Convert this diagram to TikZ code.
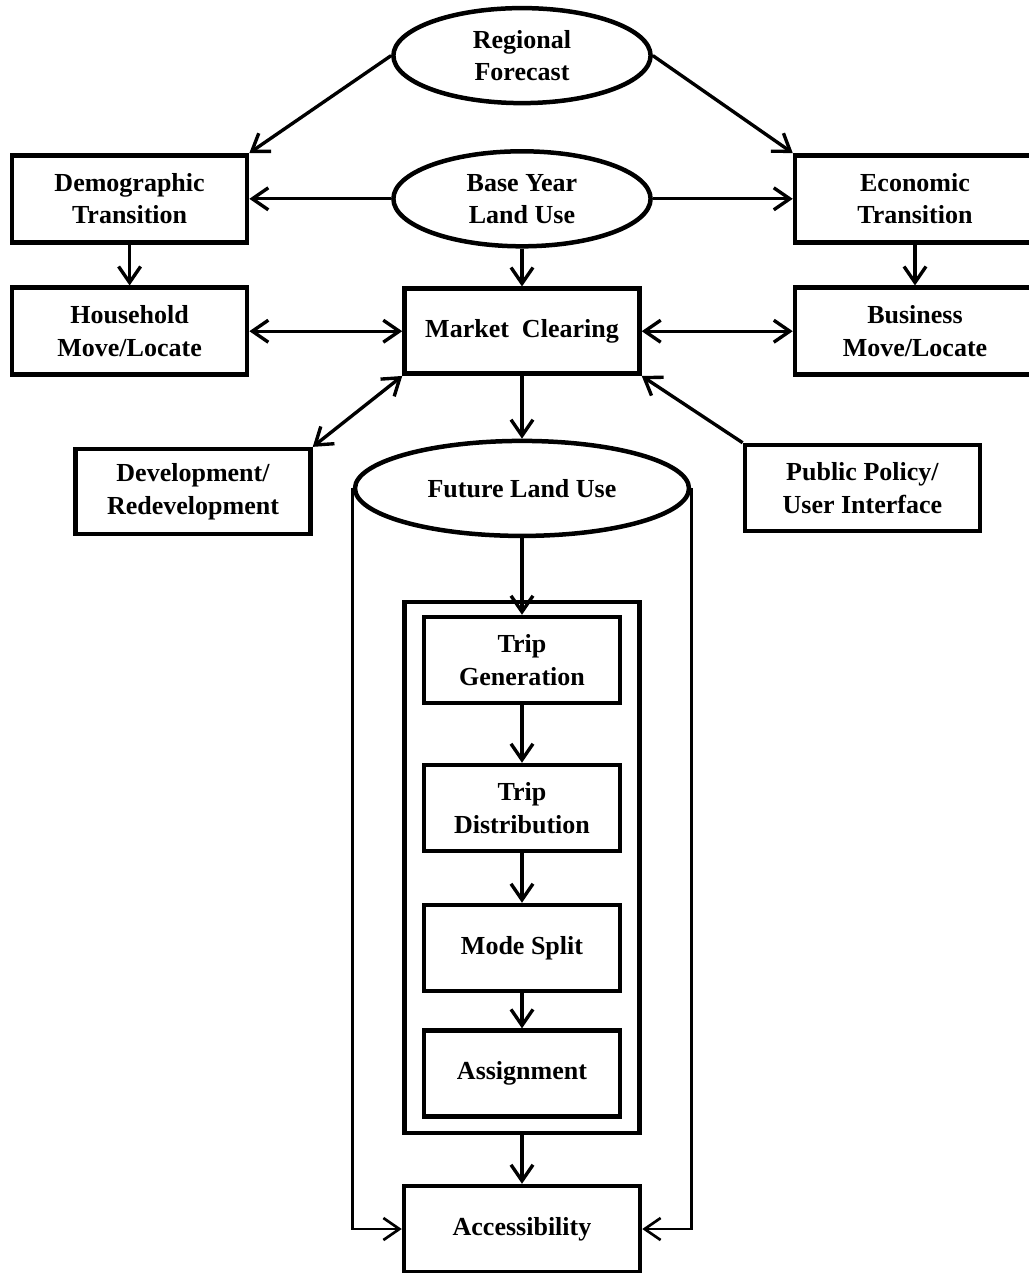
\documentclass[tikz,border=0pt]{standalone}
\usepackage{fontspec}
\setmainfont{Liberation Serif}
\usepackage{tikz}
\usetikzlibrary{arrows.meta}
\usetikzlibrary{shapes.geometric}

\tikzset{
  box/.style={draw, line width=3.2pt, rectangle, minimum width=5.875cm, minimum height=2.175cm, align=center, font=\bfseries\fontsize{18.5}{23}\selectfont},
  wbox/.style={box, minimum width=6cm},
  tbox/.style={box, minimum width=4.9cm, minimum height=2.15cm},
  oval/.style={draw, line width=3.2pt, ellipse, minimum width=6.43cm, minimum height=2.375cm, align=center, font=\bfseries\fontsize{18.5}{23}\selectfont},
  flow/.style={-{Straight Barb[length=4mm,width=5.5mm]}, line width=2.4pt},
  twoway/.style={{Straight Barb[length=4mm,width=5.5mm]}-{Straight Barb[length=4mm,width=5.5mm]}, line width=2.4pt},
  side/.style={-{Straight Barb[length=4mm,width=5.5mm]}, line width=1.9pt}
}

\begin{document}
\begin{tikzpicture}
     \useasboundingbox (0,0) rectangle (25.725,-31.825);
     %nodes
     \node[oval] (fore) at (13.05,-1.39) {Regional\\Forecast};
     \node[oval] (base) at (13.05,-4.97) {Base Year\\Land Use};
     \node[box] (demo) at (3.24,-4.97) {Demographic\\Transition};
     \node[wbox] (econ) at (22.875,-4.97) {Economic\\Transition};
     \node[box] (house) at (3.24,-8.28) {Household\\Move/Locate};
     \node[box, minimum height=2.125cm] (market) at (13.05,-8.28) {Market\ \ Clearing};
     \node[wbox] (biz) at (22.875,-8.28) {Business\\Move/Locate};
     \node[box, minimum height=2.125cm] (dev) at (4.825,-12.29) {Development/\\Redevelopment};
     \node[box, minimum height=2.15cm] (pol) at (21.56,-12.2) {Public Policy/\\User Interface};
     \node[oval, minimum width=8.35cm] (future) at (13.05,-12.21) {Future Land Use};

     %transport model
     \node[draw, line width=3.2pt, minimum width=5.875cm, minimum height=13.275cm] (outer) at (13.05,-21.69) {};
     \node[tbox] (tgen) at (13.05,-16.5) {Trip\\Generation};
     \node[tbox] (tdist) at (13.05,-20.2) {Trip\\Distribution};
     \node[tbox] (mode) at (13.05,-23.7) {Mode Split};
     \node[tbox] (assign) at (13.05,-26.84) {Assignment};
     \node[box, minimum width=5.9cm, minimum height=2.15cm] (access) at (13.05,-30.725) {Accessibility};

     %connectors
     \draw[flow] (fore.west) -- (demo.north east);
     \draw[flow] (fore.east) -- (econ.north west);
     \draw[flow] (base.west) -- (demo.east);
     \draw[flow] (base.east) -- (econ.west);
     \draw[flow] (base.south) -- (market.north);
     \draw[flow] (demo.south) -- (house.north);
     \draw[flow] (econ.south) -- (biz.north);
     \draw[twoway] (house.east) -- (market.west);
     \draw[twoway] (market.east) -- (biz.west);
     \draw[twoway] (market.south west) -- (dev.north east);
     \draw[flow] (pol.north west) -- (market.south east);
     \draw[flow] (market.south) -- (future.north);
     \draw[flow] (future.south) -- (tgen.north);
     \draw[flow] (tgen) -- (tdist);
     \draw[flow] (tdist) -- (mode);
     \draw[flow] (mode) -- (assign);
     \draw[flow] (outer.south) -- (access.north);
     \draw[side] (future.west) |- (access.west);
     \draw[side] (future.east) |- (access.east);
\end{tikzpicture}
\end{document}
